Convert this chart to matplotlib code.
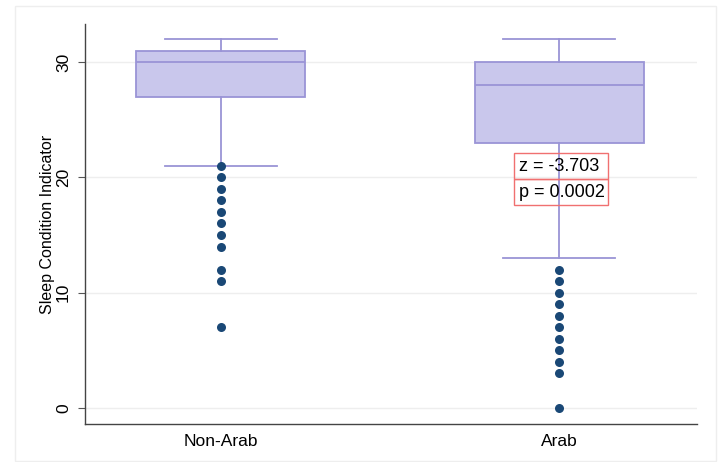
import matplotlib
matplotlib.use("Agg")
import matplotlib.pyplot as plt
from matplotlib.patches import Rectangle

categories = ["Non-Arab", "Arab"]
q1 = [27, 23]
median = [30, 28]
q3 = [31, 30]
whisker_low = [21, 13]
whisker_high = [32, 32]
outliers = [
    [21, 20, 19, 18, 17, 16, 15, 14, 12, 11, 7],
    [12, 11, 10, 9, 8, 7, 6, 5, 4, 3, 0],
]
stat_lines = ["z = -3.703", "p = 0.0002"]
yticks = [0, 10, 20, 30]
ylabel = "Sleep Condition Indicator"

plt.rcParams['font.family'] = ['Liberation Sans', 'DejaVu Sans']

fig = plt.figure(figsize=(7.23, 4.62), dpi=100)
fig.patches.append(Rectangle((15/723, 1 - 461/462), 701/723, 455/462,
                             transform=fig.transFigure, fill=False,
                             edgecolor='#eeeeee', linewidth=1))
ax = fig.add_axes([85/723, 38/462, 612/723, 400/462])

stats = []
for i, c in enumerate(categories):
    stats.append(dict(label=c, q1=q1[i], med=median[i], q3=q3[i],
                      whislo=whisker_low[i], whishi=whisker_high[i], fliers=[]))

box_fc = '#c9c7ec'
box_ec = '#9a94d6'
positions = [1, 2]
ax.bxp(stats, positions=positions, widths=0.5, patch_artist=True,
       showfliers=False,
       boxprops=dict(facecolor=box_fc, edgecolor=box_ec, linewidth=1.3),
       medianprops=dict(color=box_ec, linewidth=1.3),
       whiskerprops=dict(color=box_ec, linewidth=1.3),
       capprops=dict(color=box_ec, linewidth=1.3),
       capwidths=0.33, zorder=2)

for p, o in zip(positions, outliers):
    ax.plot([p] * len(o), o, 'o', color='#1a4876', markersize=6.5,
            markeredgewidth=0, zorder=3)

ax.set_xlim(0.598, 2.408)
ax.set_ylim(-1.39, 33.3)
ax.set_yticks(yticks)
ax.set_yticklabels([str(t) for t in yticks], rotation=90, va='center', fontsize=12.5)
ax.set_xticks(positions)
ax.set_xticklabels(categories, fontsize=12.5)
ax.tick_params(axis='x', length=0, pad=7)
ax.tick_params(axis='y', length=5, width=0.8, color='#555555', pad=5)
ax.set_ylabel(ylabel, fontsize=11.5, labelpad=0.5)
ax.grid(axis='y', color='#eeeeee', linewidth=1)
ax.set_axisbelow(True)
for s in ['top', 'right']:
    ax.spines[s].set_visible(False)
for s in ['left', 'bottom']:
    ax.spines[s].set_color('#444444')
    ax.spines[s].set_linewidth(1)

# annotation boxes
x0, x1 = 1.867, 2.145
tops = [22.1, 19.86]
bots = [19.86, 17.6]
for txt, t, b in zip(stat_lines, tops, bots):
    ax.add_patch(Rectangle((x0, b), x1 - x0, t - b, fill=False,
                           edgecolor='#f07070', linewidth=1, zorder=4))
    ax.text(x0 + 0.015, (t + b) / 2, txt, fontsize=13, va='center', ha='left',
            zorder=5)

fig.savefig('out.png', dpi=100)
